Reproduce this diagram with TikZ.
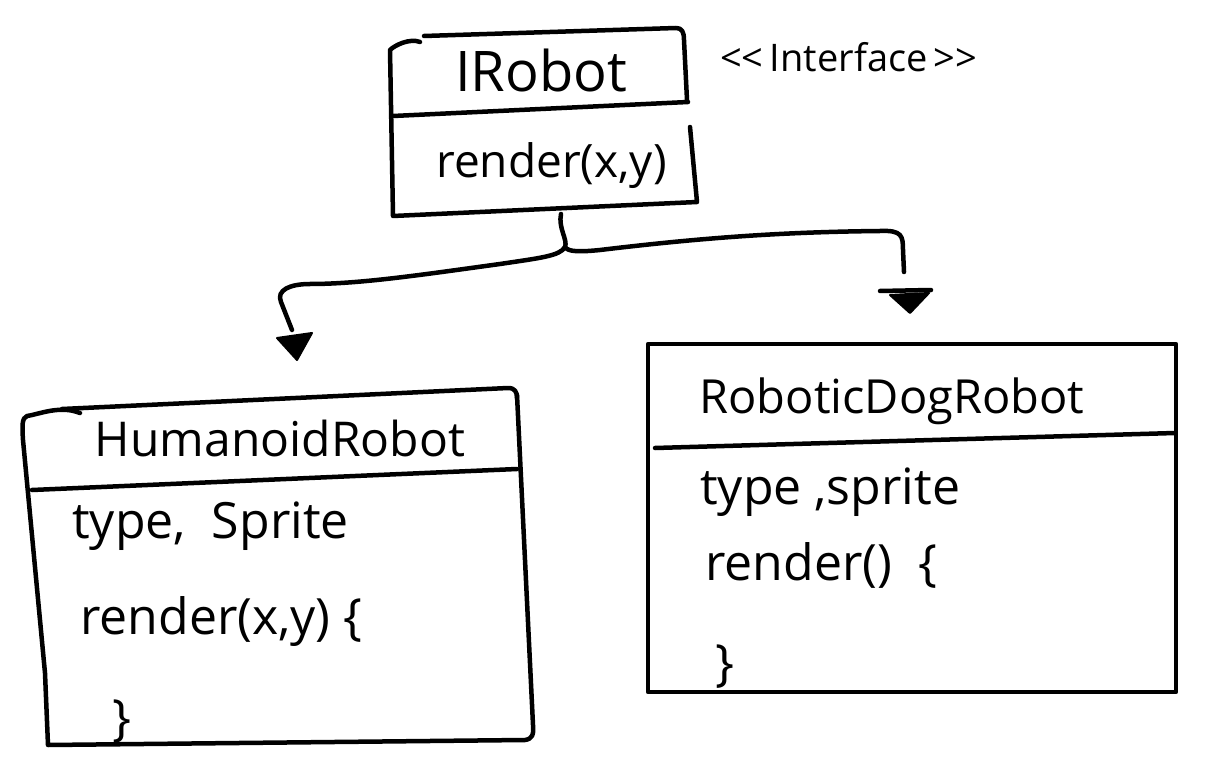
\documentclass[tikz,border=0pt]{standalone}
\usepackage{fontspec}
\setmainfont{Open Sans}
\begin{document}
\begin{tikzpicture}[x=1pt,y=-1pt,
  ink/.style={line width=4.5pt,line cap=round,line join=round,black},
  txt/.style={inner sep=0pt,anchor=base west,text=black},
  title/.style={inner sep=0pt,anchor=base,text=black,font=\fontsize{48}{52}\selectfont},
  body/.style={txt,font=\fontsize{50}{54}\selectfont},
  tipfill/.style={fill=black,draw=black,line width=2pt,line join=round}]
\useasboundingbox[fill=white] (0,0) rectangle (1216,770);

% ---------- IRobot ----------
\node[title,font=\fontsize{56}{60}\selectfont] (irobot) at (541,92) {IRobot};
\node[txt,font=\fontsize{46}{50}\selectfont] (irender) at (436,178) {render(x,y)};
\node[txt,font=\fontsize{38}{42}\selectfont] (iface) at (720,72) {{<}{<}\,Interface\,{>}{>}};
\coordinate (ibot) at (561,214);
\draw[ink] (420,42) .. controls (410,38) and (395,45) .. (390,50) -- (393,216) -- (697,202) -- (690,127);
\draw[ink] (424,36) -- (676,28) .. controls (682,28) and (684,32) .. (684,40) -- (687,100);
\draw[ink] (393,116) -- (688,102);

% ---------- connectors ----------
\coordinate (split) at (565,247);
\coordinate (ltip) at (292,330);
\coordinate (rtip) at (904,272);
\draw[ink] (ibot) .. controls (558,228) and (568,240) .. (split);
\draw[ink] (split) .. controls (560,256) and (540,258) .. (500,264)
  .. controls (420,275) and (360,284) .. (310,284)
  .. controls (290,284) and (276,290) .. (281,302) -- (ltip);
\draw[ink] (split) .. controls (568,252) and (580,252) .. (600,250)
  .. controls (700,238) and (780,232) .. (880,231)
  .. controls (902,230) and (903,236) .. (903,250) -- (rtip);
\draw[tipfill] (277,338) -- (312,333) -- (297,360) -- cycle;
\draw[ink] (880,291) -- (931,290);
\draw[tipfill] (890,295) -- (929,293) -- (910,313) -- cycle;

% ---------- HumanoidRobot ----------
\node[title] (hname) at (280,456) {HumanoidRobot};
\node[body] (hf) at (72,538) {type,\ \ Sprite};
\node[body] (hm) at (80,634) {render(x,y) \{};
\node[body] (hc) at (112,735) {\}};
\draw[ink] (80,413) .. controls (60,405) and (40,414) .. (27,416)
  .. controls (22,418) and (22,425) .. (23,440) -- (45,673) -- (48,745)
  -- (525,740) .. controls (532,739) and (534,735) .. (533,725) -- (517,395);
\draw[ink] (62,409) -- (508,388) .. controls (515,388) and (517,392) .. (517,398);
\draw[ink] (32,490) -- (517,469);

% ---------- RoboticDogRobot ----------
\node[title,font=\fontsize{47}{51}\selectfont] (dname) at (892,413) {RoboticDogRobot};
\node[body] (df) at (700,504) {type ,sprite};
\node[body] (dm) at (705,580) {render()\ \ \{};
\node[body] (dc) at (715,680) {\}};
\draw[ink] (648,344) rectangle (1176,692);
\draw[ink] (655,448) -- (1175,433);
\end{tikzpicture}
\end{document}
